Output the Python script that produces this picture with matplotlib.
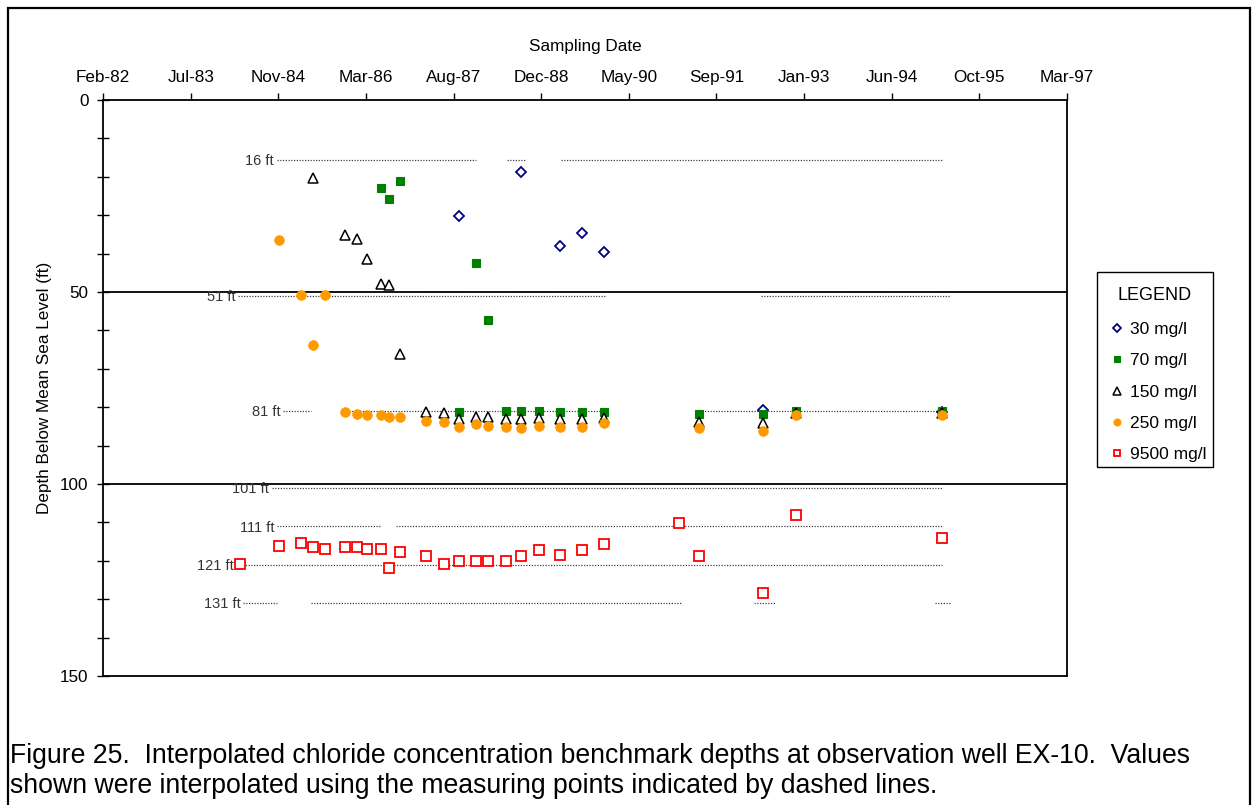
#!/usr/bin/env python3
"""
Chloride benchmark depths at observation well EX-10
"""

import matplotlib
matplotlib.use('Agg')
import matplotlib.pyplot as plt
import matplotlib.dates as mdates
import pandas as pd
from matplotlib.patches import Rectangle
from matplotlib.ticker import MultipleLocator

plt.rcParams['font.family'] = ['Liberation Sans', 'DejaVu Sans']

# --- data (depth in ft below mean sea level) ---
dates_30 = ['1987-09-11', '1988-09-01', '1989-04-09', '1989-08-15', '1989-12-18',
            '1992-06-13', '1995-03-31']
depth_30 = [30.3, 18.8, 37.9, 34.7, 39.6, 80.6, 81.2]

dates_70 = ['1986-06-23', '1986-08-09', '1986-10-11', '1987-12-17', '1988-02-26',
            '1987-09-11', '1988-06-05', '1988-09-01', '1988-12-11', '1989-04-09',
            '1989-08-15', '1989-12-18', '1991-06-13', '1992-06-13', '1992-12-14',
            '1995-03-31']
depth_70 = [23.0, 25.9, 21.1, 42.5, 57.3,
            81.3, 81.0, 81.0, 81.0, 81.3,
            81.3, 81.3, 81.9, 81.9, 80.9,
            81.0]

dates_150 = ['1985-05-31', '1985-11-30', '1986-02-08', '1986-04-07', '1986-06-23',
             '1986-08-09', '1986-10-11', '1987-03-04', '1987-06-17', '1987-09-11',
             '1987-12-17', '1988-02-26', '1988-06-05', '1988-09-01', '1988-12-11',
             '1989-04-09', '1989-08-15', '1989-12-18', '1991-06-13', '1992-06-13',
             '1992-12-14', '1995-03-31']
depth_150 = [20.4, 35.2, 36.3, 41.5, 47.9,
             48.3, 66.2, 81.2, 81.5, 83.2,
             82.6, 82.6, 83.2, 83.2, 82.9,
             83.2, 83.2, 82.9, 83.9, 84.1,
             81.5, 81.5]

dates_250 = ['1984-11-21', '1985-03-22', '1985-05-31', '1985-08-07', '1985-11-30',
             '1986-02-08', '1986-04-07', '1986-06-23', '1986-08-09', '1986-10-11',
             '1987-03-04', '1987-06-17', '1987-09-11', '1987-12-17', '1988-02-26',
             '1988-06-05', '1988-09-01', '1988-12-11', '1989-04-09', '1989-08-15',
             '1989-12-18', '1991-06-13', '1992-06-13', '1992-12-14', '1995-03-31']
depth_250 = [36.5, 50.9, 63.7, 50.9, 81.3,
             81.7, 82.0, 82.0, 82.6, 82.6,
             83.5, 83.9, 85.2, 84.5, 84.8,
             85.2, 85.5, 84.8, 85.2, 85.2,
             84.2, 85.5, 86.1, 82.0, 82.0]

dates_9500 = ['1984-04-10', '1984-11-21', '1985-03-22', '1985-05-31', '1985-08-07',
              '1985-11-30', '1986-02-08', '1986-04-07', '1986-06-23', '1986-08-09',
              '1986-10-11', '1987-03-04', '1987-06-17', '1987-09-11', '1987-12-17',
              '1988-02-26', '1988-06-05', '1988-09-01', '1988-12-11', '1989-04-09',
              '1989-08-15', '1989-12-18', '1991-02-19', '1991-06-13', '1992-06-13',
              '1992-12-14', '1995-03-31']
depth_9500 = [120.8, 116.2, 115.3, 116.5, 116.8,
              116.5, 116.5, 116.8, 116.8, 122.0,
              117.8, 118.8, 120.8, 120.1, 120.1,
              120.1, 120.1, 118.8, 117.2, 118.5,
              117.2, 115.5, 110.1, 118.8, 128.3,
              108.2, 114.0]

# measuring points (dotted lines): depth, label, and the date spans drawn
ref_depths = [15.5, 51, 81, 101, 111, 121, 131]
ref_labels = ['16 ft', '51 ft', '81 ft', '101 ft', '111 ft', '121 ft', '131 ft']
ref_spans = [
    [('1984-11-06', '1987-12-17'), ('1988-06-11', '1988-09-21'), ('1989-04-15', '1995-03-29')],
    [('1984-03-29', '1989-12-20'), ('1992-05-28', '1995-05-14')],
    [('1984-12-11', '1985-05-19'), ('1985-11-18', '1989-12-15'), ('1991-06-09', '1995-04-04')],
    [('1984-10-09', '1995-04-04')],
    [('1984-11-06', '1986-06-17'), ('1986-09-17', '1995-03-29')],
    [('1984-03-23', '1995-03-29')],
    [('1984-04-27', '1984-11-06'), ('1985-05-19', '1991-02-27'),
     ('1992-04-23', '1992-08-21'), ('1995-02-17', '1995-05-14')],
]

series = [
    ('30 mg/l', dates_30, depth_30, dict(marker='D', ms=5.3, mfc='white', mec='#000080', mew=1.3)),
    ('70 mg/l', dates_70, depth_70, dict(marker='s', ms=6.4, mfc='#008000', mec='#008000', mew=0.8)),
    ('150 mg/l', dates_150, depth_150, dict(marker='^', ms=7.2, mfc='white', mec='black', mew=1.1)),
    ('250 mg/l', dates_250, depth_250, dict(marker='o', ms=7, mfc='#FF9900', mec='#FF9900', mew=0.5)),
    ('9500 mg/l', dates_9500, depth_9500, dict(marker='s', ms=6.5, mfc='white', mec='#FF0000', mew=1.3)),
]

W, H = 1254, 805
fig = plt.figure(figsize=(W / 100, H / 100), dpi=100)
ax = fig.add_axes([103 / W, 1 - 676 / H, (1067 - 103) / W, (676 - 100) / H])

# outer frame of the figure
fig.patches.append(Rectangle((7.5 / W, -0.02), (1250 - 7.5) / W, 1.02 - 7.5 / H,
                             transform=fig.transFigure, fill=False,
                             edgecolor='black', linewidth=1.6))

# horizontal gridlines
for yv in [50, 100]:
    ax.axhline(yv, color='black', linewidth=1.3, zorder=1)

# dotted measuring-point lines with labels
for depth, label, spans in zip(ref_depths, ref_labels, ref_spans):
    for start, end in spans:
        ax.plot(pd.to_datetime([start, end]), [depth, depth], color='#404040',
                linewidth=0.9, linestyle=(0, (1, 1.2)), zorder=2)
    ax.annotate(label, xy=(pd.to_datetime(spans[0][0]), depth), xytext=(-2, -1),
                textcoords='offset points', ha='right', va='center',
                fontsize=10.5, color='#333333')

handles = []
for name, d, v, style in series:
    h, = ax.plot(pd.to_datetime(d), v, linestyle='none', label=name, zorder=3,
                 clip_on=False, **style)
    handles.append(h)

# Excel-like date axis: 500-day steps from serial 30000
base = pd.Timestamp('1899-12-30')
ticks = [base + pd.Timedelta(days=30000 + 500 * i) for i in range(12)]
ax.set_xlim(ticks[0], ticks[-1])
ax.set_xticks(ticks)
ax.xaxis.set_major_formatter(mdates.DateFormatter('%b-%y'))
ax.xaxis.tick_top()
ax.tick_params(axis='x', which='major', direction='out', length=5, pad=6,
               labelsize=12.3, width=1)

ax.set_ylim(150, 0)
ax.set_yticks([0, 50, 100, 150])
ax.yaxis.set_minor_locator(MultipleLocator(10))
ax.tick_params(axis='y', which='major', direction='inout', length=9, pad=6,
               labelsize=12.3, width=1)
ax.tick_params(axis='y', which='minor', direction='inout', length=8, width=1)

for s in ax.spines.values():
    s.set_linewidth(1.3)

fig.text(585 / W, 1 - 46 / H, 'Sampling Date', ha='center', va='center', fontsize=12.3)
fig.text(45 / W, 1 - 388 / H, 'Depth Below Mean Sea Level (ft)', ha='center',
         va='center', rotation=90, fontsize=12.3)

# legend box drawn separately so its padding matches the original
fig.patches.append(Rectangle((1097 / W, 1 - 467 / H), (1213 - 1097) / W, (467 - 272) / H,
                             transform=fig.transFigure, fill=False,
                             edgecolor='black', linewidth=1.0))
fig.text(1155 / W, 1 - 296 / H, 'LEGEND', ha='center', va='center', fontsize=13)
leg = ax.legend(handles=handles, loc='upper left',
                bbox_to_anchor=(1112 / W, 1 - 322 / H), bbox_transform=fig.transFigure,
                fontsize=12.5, frameon=False,
                borderpad=0, labelspacing=0.93, handlelength=0.6,
                handletextpad=0.45, markerscale=0.75, borderaxespad=0)

fig.text(10 / W, 1 - 756 / H,
         'Figure 25.  Interpolated chloride concentration benchmark depths at observation well EX-10.  Values',
         ha='left', va='center', fontsize=19.2)
fig.text(10 / W, 1 - 786 / H,
         'shown were interpolated using the measuring points indicated by dashed lines.',
         ha='left', va='center', fontsize=19.2)

fig.savefig('out.png', dpi=100)
